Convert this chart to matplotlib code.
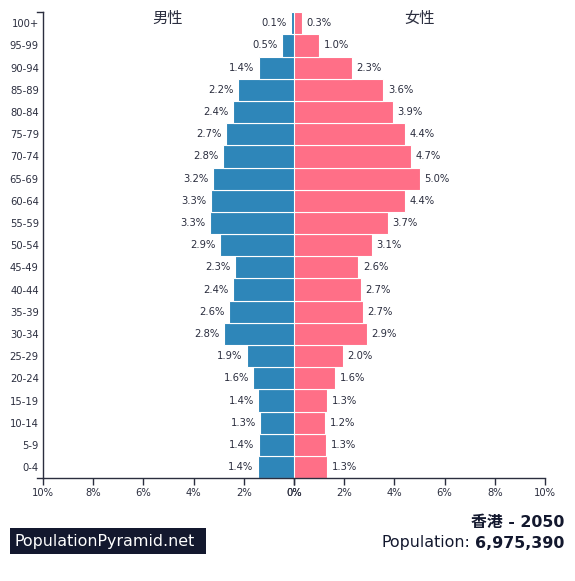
import numpy as np
import matplotlib
matplotlib.use("Agg")
import matplotlib.pyplot as plt
from matplotlib.patches import Rectangle
from matplotlib.lines import Line2D

plt.rcParams['font.family'] = ['DejaVu Sans', 'Noto Sans CJK SC']

# age groups, bottom to top
ages = ["0-4", "5-9", "10-14", "15-19", "20-24", "25-29", "30-34", "35-39",
        "40-44", "45-49", "50-54", "55-59", "60-64", "65-69", "70-74",
        "75-79", "80-84", "85-89", "90-94", "95-99", "100+"]

# percent of total population
male = [1.44, 1.39, 1.34, 1.42, 1.62, 1.87, 2.79, 2.59, 2.44, 2.34, 2.94,
        3.34, 3.30, 3.23, 2.84, 2.71, 2.43, 2.24, 1.39, 0.48, 0.12]
female = [1.32, 1.28, 1.24, 1.31, 1.63, 1.96, 2.91, 2.74, 2.67, 2.56, 3.11,
          3.74, 4.42, 5.02, 4.66, 4.42, 3.94, 3.56, 2.31, 1.00, 0.32]

xticks = [0, 2, 4, 6, 8, 10]

blue = "#2e86b9"
pink = "#ff6f87"
txt = "#2b2e3f"
navy = "#13182e"
fs = 7.2

W, H = 575, 581
fig = plt.figure(figsize=(5.75, 5.81), dpi=100)
axl = fig.add_axes([0.0748, 0.177, 0.4365, 0.802])
axr = fig.add_axes([0.5113, 0.177, 0.4365, 0.802])

y = np.arange(len(ages))

axl.barh(y, male, height=1.0, color=blue, edgecolor="white", linewidth=0.8)
axr.barh(y, female, height=1.0, color=pink, edgecolor="white", linewidth=0.8)

for i, v in enumerate(male):
    axl.text(v + 0.18, i, f"{v:.1f}%", ha="right", va="center", fontsize=fs, color=txt)
for i, v in enumerate(female):
    axr.text(v + 0.18, i, f"{v:.1f}%", ha="left", va="center", fontsize=fs, color=txt)

axl.set_xlim(10, 0)
axr.set_xlim(0, 10)
for ax in (axl, axr):
    ax.set_ylim(-0.5, len(ages) - 0.5)
    ax.set_xticks(xticks)
    ax.set_xticklabels([f"{t}%" for t in xticks], fontsize=fs, color=txt)
    ax.tick_params(axis="x", length=5, width=1, color=txt, pad=2)
    for s in ("top", "right", "left"):
        ax.spines[s].set_visible(False)
    ax.spines["bottom"].set_color(txt)
    ax.spines["bottom"].set_linewidth(1)

axl.spines["left"].set_visible(True)
axl.spines["left"].set_color(txt)
axl.spines["left"].set_linewidth(1)
axl.set_yticks(y)
axl.set_yticklabels(ages, fontsize=fs, color=txt)
axl.tick_params(axis="y", length=0, pad=3)
axr.set_yticks([])

# outer ticks at both ends of the age axis
for yy in (12, 478):
    fig.lines.append(Line2D([37 / W, 43 / W], [1 - yy / H, 1 - yy / H],
                            transform=fig.transFigure, color=txt, linewidth=1))

fig.text(168 / W, 1 - 18 / H, "男性", ha="center", va="center", fontsize=11, color=txt)
fig.text(420 / W, 1 - 18 / H, "女性", ha="center", va="center", fontsize=11, color=txt)

fig.text(564 / W, 1 - 523 / H, "香港 - 2050", ha="right", va="center",
         fontsize=11.4, fontweight="bold", color=navy)

# population line: bold number, normal prefix placed just left of it
num = fig.text(564 / W, 1 - 543 / H, "6,975,390", ha="right", va="center",
               fontsize=11.4, fontweight="bold", color=navy)
fig.canvas.draw()
bb = num.get_window_extent(renderer=fig.canvas.get_renderer())
fig.text((bb.x0 - 4) / fig.bbox.width, 1 - 543 / H, "Population:", ha="right", va="center",
         fontsize=11.4, color=navy)

# logo box
fig.patches.append(Rectangle((10 / W, 1 - 554 / H), 196 / W, 26 / H,
                             transform=fig.transFigure, facecolor=navy, edgecolor="none"))
fig.text(14 / W, 1 - 541.5 / H, "PopulationPyramid.net", ha="left", va="center",
         fontsize=11.4, color="white")

fig.savefig("out.png", dpi=100)
